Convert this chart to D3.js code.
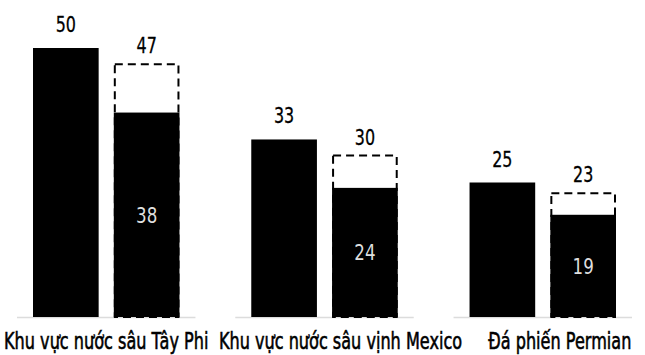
<!DOCTYPE html>
<html>
<head>
<meta charset="utf-8">
<script src="https://cdn.jsdelivr.net/npm/d3@7"></script>
<style>
  body { margin: 0; background: #fff; }
  svg { display: block; }
  text { font-family: "DejaVu Sans", sans-serif; }
</style>
</head>
<body>
<svg width="645" height="355"></svg>
<script>
// dữ liệu
var categories = ["Khu vực nước sâu Tây Phi", "Khu vực nước sâu vịnh Mexico", "Đá phiến Permian"];
var firstBar = [50, 33, 25];      // cột đặc
var outlineBar = [47, 30, 23];    // khung nét đứt
var innerBar = [38, 24, 19];      // phần đặc bên trong

var svg = d3.select("svg");
var baseY = 317, topY = 48;
var labelNudge = [0, 16, 17]; // nhãn trong ảnh gốc hơi lệch phải

var x0 = d3.scaleBand().domain(categories).range([33, 616]).paddingInner(0.329).paddingOuter(0);
var x1 = d3.scaleBand().domain(["a", "b"]).range([0, x0.bandwidth()]).paddingInner(0.1875).paddingOuter(0);
var y = d3.scaleLinear().domain([0, 50]).range([baseY, topY]);

var g = svg.selectAll(".grp")
  .data(categories)
  .enter().append("g")
  .attr("class", "grp")
  .attr("transform", function(d) { return "translate(" + x0(d) + ",0)"; });

// đường nền
g.append("line")
  .attr("x1", -16).attr("x2", x0.bandwidth() + 16)
  .attr("y1", baseY + 0.5).attr("y2", baseY + 0.5)
  .attr("stroke", "#dcdcdc").attr("stroke-width", 1.5);

// cột thứ nhất
g.append("rect")
  .attr("x", x1("a"))
  .attr("y", function(d, i) { return y(firstBar[i]); })
  .attr("width", x1.bandwidth())
  .attr("height", function(d, i) { return baseY - y(firstBar[i]); })
  .attr("fill", "#000");

g.append("text")
  .attr("class", "num")
  .attr("x", x1("a") + x1.bandwidth() / 2)
  .attr("y", function(d, i) { return y(firstBar[i]) - 16; })
  .attr("text-anchor", "middle")
  .attr("font-size", 21)
  .attr("stroke", "#000").attr("stroke-width", 0.3)
  .text(function(d, i) { return firstBar[i]; });

// khung nét đứt
g.append("rect")
  .attr("x", x1("b") + 1)
  .attr("y", function(d, i) { return y(outlineBar[i]); })
  .attr("width", x1.bandwidth() - 2)
  .attr("height", function(d, i) { return baseY - y(outlineBar[i]); })
  .attr("fill", "none")
  .attr("stroke", "#000")
  .attr("stroke-width", 2)
  .attr("stroke-dasharray", "8,5");

g.append("rect")
  .attr("x", x1("b"))
  .attr("y", function(d, i) { return y(innerBar[i]); })
  .attr("width", x1.bandwidth())
  .attr("height", function(d, i) { return baseY - y(innerBar[i]); })
  .attr("fill", "#000");

g.append("text")
  .attr("class", "num")
  .attr("x", x1("b") + x1.bandwidth() / 2)
  .attr("y", function(d, i) { return y(outlineBar[i]) - 11; })
  .attr("text-anchor", "middle")
  .attr("font-size", 21)
  .attr("stroke", "#000").attr("stroke-width", 0.3)
  .text(function(d, i) { return outlineBar[i]; });

g.append("text")
  .attr("class", "num")
  .attr("x", x1("b") + x1.bandwidth() / 2)
  .attr("y", function(d, i) { return (y(innerBar[i]) + baseY) / 2 + 8; })
  .attr("text-anchor", "middle")
  .attr("font-size", 22)
  .attr("fill", "#dedede")
  .text(function(d, i) { return innerBar[i]; });

// nhãn danh mục
g.append("text")
  .attr("class", "cat")
  .attr("x", function(d, i) { return x0.bandwidth() / 2 + labelNudge[i]; })
  .attr("y", 349)
  .attr("text-anchor", "middle")
  .attr("font-size", 23)
  .attr("stroke", "#000")
  .attr("stroke-width", 0.6)
  .text(function(d) { return d; });

// ép chữ theo chiều ngang cho giống font condensed
svg.selectAll("text").each(function() {
  var t = d3.select(this);
  var k = t.classed("cat") ? 0.70 : 0.76;
  var tx = +t.attr("x"), ty = +t.attr("y");
  t.attr("x", 0).attr("y", 0)
   .attr("transform", "translate(" + tx + "," + ty + ") scale(" + k + ",1)");
});
</script>
</body>
</html>
